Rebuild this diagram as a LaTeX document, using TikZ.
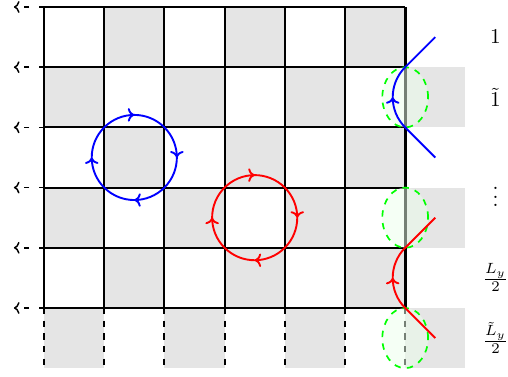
\documentclass[tikz,border=0pt]{standalone}
\usepackage{amsmath, amssymb}
\usetikzlibrary{arrows.meta, decorations.markings}

\begin{document}
\begin{tikzpicture}[
    >={To[scale=0.85]},
    shaded/.style={fill=gray!20},
    gridline/.style={line width=0.9pt},
    boundary/.style={line width=1.3pt},
    probe/.style={->, dash pattern=on 2.5pt off 4.5pt, line width=0.7pt},
    region/.style={draw=green, dashed, thick, fill=green!8, fill opacity=0.5},
    plaquette/.style={line width=0.9pt, postaction={decorate},
        decoration={markings,
            mark=at position 0.125 with {\arrow{>}},
            mark=at position 0.375 with {\arrow{>}},
            mark=at position 0.625 with {\arrow{>}},
            mark=at position 0.875 with {\arrow{>}}}},
    cut/.style={line width=0.9pt, postaction={decorate},
        decoration={markings, mark=at position 0.5 with {\arrow{>}}}},
    tag/.style={inner sep=0pt}
]
\useasboundingbox (-0.731,-1.146) rectangle (7.708,5.116);

% checkerboard
\foreach \i in {0,...,5}
    \foreach \j in {-1,...,4} {
        \pgfmathparse{int(mod(\i+\j+10,2))}
        \ifnum\pgfmathresult=1 \fill[shaded] (\i,\j) rectangle ++(1,1); \fi
    }
\foreach \j in {-1,1,3}
    \fill[shaded] (6,\j) rectangle ++(1,1);

% lattice
\foreach \j in {0,...,5} {
    \draw[gridline] (0,\j) -- (6,\j);
    \draw[probe] (0,\j) -- (-0.5,\j);
}
\foreach \i in {0,...,5}
    \draw[gridline] (\i,0) -- (\i,5);
\draw[boundary] (6,0) -- (6,5);
\foreach \i in {0,...,6}
    \draw[gridline, dashed] (\i,0) -- (\i,-1);

\foreach \j in {-0.5,1.5,3.5}
    \draw[region] (6,\j) ellipse [x radius=0.38, y radius=0.5];

% loops
\draw[plaquette, blue] (1.5,2.5) ++(45:0.7071)
    arc[start angle=45, end angle=-315, radius=0.7071];
\draw[plaquette, red] (3.5,1.5) ++(45:0.7071)
    arc[start angle=45, end angle=-315, radius=0.7071];

\draw[cut, blue] (6.5,2.5) -- (6,3)
    arc[start angle=225, end angle=135, radius=0.7071] -- (6.5,4.5);
\draw[cut, red] (6.5,-0.5) -- (6,0)
    arc[start angle=225, end angle=135, radius=0.7071] -- (6.5,1.5);

% labels
\node[tag] (one) at (7.5,4.5) {$1$};
\node[tag] (onet) at (7.5,3.5) {$\tilde{1}$};
\node[tag] (dots) at (7.5,1.95) {$\vdots$};
\node[tag] (half) at (7.5,0.5) {$\frac{L_y}{2}$};
\node[tag] (halft) at (7.5,-0.5) {$\frac{\tilde{L}_y}{2}$};

\end{tikzpicture}
\end{document}
